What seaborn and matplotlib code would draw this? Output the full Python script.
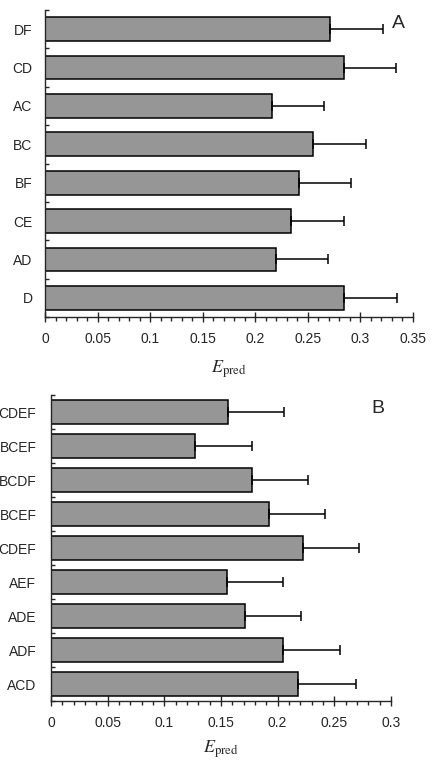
import numpy as np
import pandas as pd
import matplotlib
matplotlib.use('Agg')
import matplotlib.pyplot as plt
import seaborn as sns
from matplotlib.ticker import MultipleLocator, FuncFormatter, FixedLocator

# painel A
labels_a = ['DF', 'CD', 'AC', 'BC', 'BF', 'CE', 'AD', 'D']
e_pred_a = [0.271, 0.284, 0.216, 0.255, 0.242, 0.234, 0.220, 0.284]
err_a = [0.050, 0.050, 0.049, 0.050, 0.049, 0.050, 0.049, 0.051]

# painel B (rotulos cortados na borda esquerda, como no original)
labels_b = ['CDEF', 'BCEF', 'BCDF', 'BCEF', 'CDEF', 'AEF', 'ADE', 'ADF', 'ACD']
e_pred_b = [0.156, 0.127, 0.177, 0.192, 0.222, 0.155, 0.171, 0.205, 0.218]
err_b = [0.050, 0.050, 0.050, 0.050, 0.050, 0.050, 0.050, 0.050, 0.051]

sns.set_style('ticks')
plt.rcParams['font.family'] = ['Liberation Sans', 'DejaVu Sans']
plt.rcParams['mathtext.fontset'] = 'stix'

fig = plt.figure(figsize=(4.42, 7.62), dpi=100)
ax_a = fig.add_axes([45 / 442, 1 - 317 / 762, 368 / 442, 307 / 762])
ax_b = fig.add_axes([51 / 442, 1 - 701 / 762, 340 / 442, 306 / 762])


def painel(ax, labels, vals, errs, xmax, pad_y, bar_h, lpad):
    n = len(labels)
    df = pd.DataFrame({'row': np.arange(n), 'E': vals})
    sns.barplot(data=df, x='E', y='row', orient='h', color='#969696',
                saturation=1, edgecolor='black', linewidth=1.1,
                width=bar_h, errorbar=None, ax=ax)
    ax.errorbar(vals, np.arange(n), xerr=[np.zeros(n), errs], fmt='none',
                ecolor='black', elinewidth=1.1, capsize=3.5, capthick=1.1)
    ax.set_xlim(0, xmax)
    ax.set_ylim(n - 0.5, -0.5)
    sns.despine(ax=ax)
    for s in ['left', 'bottom']:
        ax.spines[s].set_linewidth(1.0)

    ax.set_yticks(np.arange(n))
    ax.set_yticklabels(labels, fontsize=10)
    ax.yaxis.set_minor_locator(FixedLocator(np.arange(n + 1) - 0.5))
    ax.tick_params(axis='y', which='major', length=0, pad=pad_y)
    ax.tick_params(axis='y', which='minor', direction='in', length=3, width=1.0)

    ax.xaxis.set_major_locator(MultipleLocator(0.05))
    ax.xaxis.set_minor_locator(MultipleLocator(0.01))
    ax.xaxis.set_major_formatter(FuncFormatter(lambda v, p: f'{v:g}'))
    ax.tick_params(axis='x', which='major', direction='inout', length=7,
                   width=1.0, labelsize=10, pad=7)
    ax.tick_params(axis='x', which='minor', direction='out', length=3, width=1.0)
    ax.set_ylabel('')
    ax.set_xlabel(r'$E_{\mathrm{pred}}$', fontsize=13, labelpad=lpad)


painel(ax_a, labels_a, e_pred_a, err_a, 0.35, 9, 0.62, 9)
painel(ax_b, labels_b, e_pred_b, err_b, 0.30, 10.5, 0.68, 6)

fig.text(398 / 442, 1 - 24 / 762, 'A', fontsize=14, ha='center', va='center')
fig.text(378 / 442, 1 - 408 / 762, 'B', fontsize=14, ha='center', va='center')

fig.savefig('out.png', dpi=100)
